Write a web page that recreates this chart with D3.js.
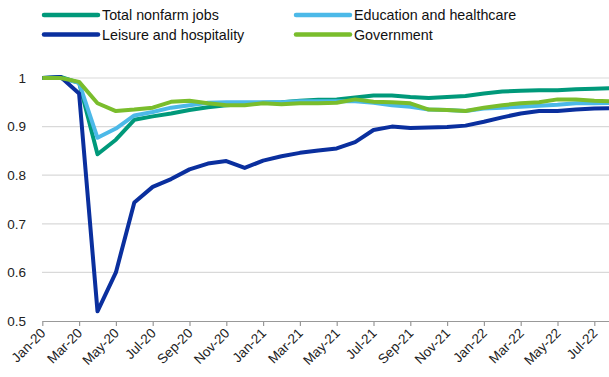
<!DOCTYPE html>
<head>
  <meta charset="utf-8">
  <script src="https://d3js.org/d3.v7.min.js"></script>
  <style>
body { margin: 0; background: #fff; }
svg { font-family: "Liberation Sans", Arial, sans-serif; }
  </style>
</head>
<body>
<svg width="609" height="377"></svg>
<script>
// months Jan-20 .. Aug-22
var months = ["Jan-20","Feb-20","Mar-20","Apr-20","May-20","Jun-20","Jul-20","Aug-20","Sep-20","Oct-20","Nov-20","Dec-20",
              "Jan-21","Feb-21","Mar-21","Apr-21","May-21","Jun-21","Jul-21","Aug-21","Sep-21","Oct-21","Nov-21","Dec-21",
              "Jan-22","Feb-22","Mar-22","Apr-22","May-22","Jun-22","Jul-22","Aug-22"];
var tickLabels = months.filter(function(d, i) { return i % 2 == 0; });
var yTicks = [0.5, 0.6, 0.7, 0.8, 0.9, 1];

var totalNonfarm = [1.0, 1.002, 0.99, 0.843, 0.873, 0.914, 0.921, 0.927, 0.934, 0.94, 0.944, 0.946,
                    0.949, 0.95, 0.953, 0.955, 0.956, 0.96, 0.964, 0.964, 0.961, 0.959, 0.961, 0.963,
                    0.968, 0.972, 0.974, 0.975, 0.975, 0.977, 0.978, 0.979];
var eduHealth    = [1.0, 1.0, 0.99, 0.877, 0.896, 0.923, 0.93, 0.939, 0.944, 0.949, 0.95, 0.95,
                    0.95, 0.95, 0.952, 0.952, 0.952, 0.952, 0.949, 0.944, 0.941, 0.935, 0.934, 0.932,
                    0.937, 0.939, 0.941, 0.943, 0.945, 0.948, 0.948, 0.949];
var leisure      = [1.0, 1.002, 0.968, 0.52, 0.60, 0.744, 0.776, 0.792, 0.812, 0.824, 0.829, 0.815,
                    0.83, 0.839, 0.846, 0.851, 0.855, 0.868, 0.893, 0.90, 0.897, 0.898, 0.899, 0.902,
                    0.91, 0.919, 0.927, 0.932, 0.932, 0.935, 0.937, 0.938];
var government   = [1.0, 1.0, 0.992, 0.948, 0.932, 0.935, 0.939, 0.951, 0.953, 0.948, 0.944, 0.944,
                    0.948, 0.946, 0.948, 0.948, 0.949, 0.956, 0.951, 0.95, 0.948, 0.935, 0.934, 0.932,
                    0.939, 0.944, 0.948, 0.95, 0.956, 0.956, 0.953, 0.952];

var seriesNames = ["Total nonfarm jobs", "Education and healthcare", "Leisure and hospitality", "Government"];
var seriesValues = [totalNonfarm, eduHealth, leisure, government];
var colors = ["#00997a", "#4cb9e8", "#0a2f9e", "#7abd2c"];

var svg = d3.select("svg");

var x = d3.scalePoint()
    .domain(months)
    .range([42.3, 42.3 + 18.4 * (months.length - 1)]);

var y = d3.scaleLinear()
    .domain([0.5, 1])
    .range([321, 78]);

// gridlines
svg.append("g")
  .selectAll("line")
  .data(yTicks.slice(1))
  .enter().append("line")
    .attr("x1", 42)
    .attr("x2", 609)
    .attr("y1", function(d) { return y(d); })
    .attr("y2", function(d) { return y(d); })
    .attr("stroke", "#d9d9d9")
    .attr("stroke-width", 1.2);

// y labels
svg.append("g")
  .selectAll("text")
  .data(yTicks)
  .enter().append("text")
    .attr("x", 26)
    .attr("y", function(d) { return y(d); })
    .attr("dy", "0.35em")
    .attr("text-anchor", "end")
    .attr("font-size", 13.5)
    .attr("fill", "#222")
    .text(function(d) { return d3.format("")(d); });

// x axis
var xAxis = svg.append("g")
    .attr("transform", "translate(0," + y(0.5) + ")")
    .call(d3.axisBottom(x).tickValues(tickLabels).tickSize(5).tickSizeOuter(0).tickFormat(""));
xAxis.select(".domain").attr("stroke", "#999").attr("stroke-width", 1.2);
xAxis.selectAll(".tick line").attr("stroke", "#999").attr("stroke-width", 1.2);

svg.append("g")
  .selectAll("text")
  .data(tickLabels)
  .enter().append("text")
    .attr("transform", function(d) { return "translate(" + (x(d) + 4) + "," + (y(0.5) + 13) + ") rotate(-45)"; })
    .attr("text-anchor", "end")
    .attr("font-size", 13.5)
    .attr("fill", "#222")
    .text(function(d) { return d; });

// lines
var line = d3.line()
    .x(function(d, i) { return x(months[i]); })
    .y(function(d) { return y(d); });

svg.append("g")
  .selectAll("path")
  .data(seriesValues)
  .enter().append("path")
    .attr("d", line)
    .attr("fill", "none")
    .attr("stroke", function(d, i) { return colors[i]; })
    .attr("stroke-width", 4)
    .attr("stroke-linejoin", "round");

// legend
var legendPos = [[44, 15], [296, 15], [44, 34.5], [296, 34.5]];
var legend = svg.append("g")
  .selectAll("g")
  .data(seriesNames)
  .enter().append("g")
    .attr("transform", function(d, i) { return "translate(" + legendPos[i][0] + "," + legendPos[i][1] + ")"; });

legend.append("line")
    .attr("x1", 0)
    .attr("x2", 54)
    .attr("stroke", function(d, i) { return colors[i]; })
    .attr("stroke-width", 4.5)
    .attr("stroke-linecap", "round");

legend.append("text")
    .attr("x", 58)
    .attr("dy", "0.36em")
    .attr("font-size", 14.3)
    .attr("fill", "#111")
    .text(function(d) { return d; });
</script>
</body>
